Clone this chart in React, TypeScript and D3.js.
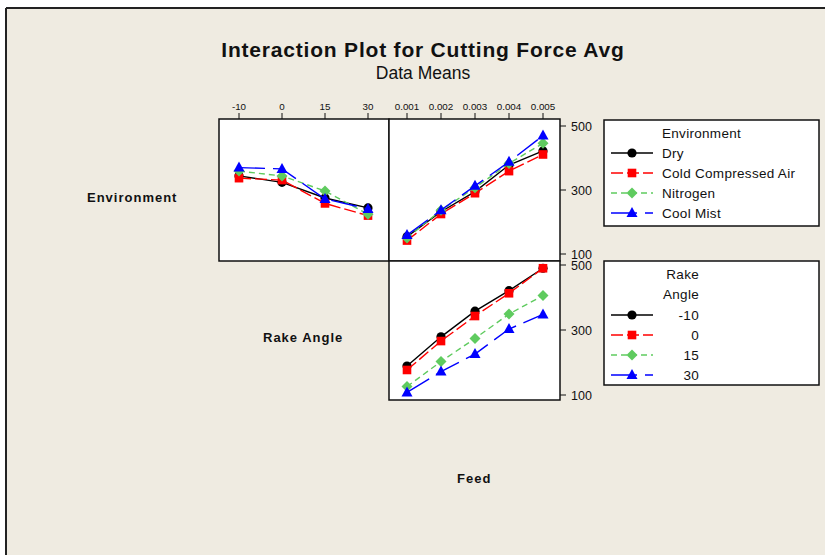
import React from "react";
import * as d3 from "d3";

const rakeLevels = ["-10", "0", "15", "30"];
const feedLevels = [0.001, 0.002, 0.003, 0.004, 0.005];
const environments = ["Dry", "Cold Compressed Air", "Nitrogen", "Cool Mist"];
const yTicks = [100, 300, 500];

// Environment means by rake angle (rows = environment)
const envDryByRake = [344, 324, 275, 244];
const envColdByRake = [337, 331, 258, 220];
const envNitroByRake = [359, 344, 297, 224];
const envMistByRake = [370, 366, 272, 241];

// Environment means by feed
const envDryByFeed = [154, 232, 295, 378, 422];
const envColdByFeed = [142, 225, 290, 359, 411];
const envNitroByFeed = [150, 237, 307, 383, 446];
const envMistByFeed = [159, 237, 313, 388, 470];

// Rake angle means by feed
const rakeM10ByFeed = [189, 279, 358, 421, 490];
const rake0ByFeed = [177, 266, 343, 413, 490];
const rake15ByFeed = [126, 203, 274, 349, 406];
const rake30ByFeed = [108, 172, 226, 303, 348];

const envSeries = [envDryByRake, envColdByRake, envNitroByRake, envMistByRake];
const envFeedSeries = [envDryByFeed, envColdByFeed, envNitroByFeed, envMistByFeed];
const rakeFeedSeries = [rakeM10ByFeed, rake0ByFeed, rake15ByFeed, rake30ByFeed];

const styles = [
  { color: "#000000", dash: "none", shape: "circle" },
  { color: "#FF0000", dash: "12,4", shape: "square" },
  { color: "#5FCB5F", dash: "6,4", shape: "diamond" },
  { color: "#0000FF", dash: "26,8", shape: "triangle" },
];

const BG = "#EFEBE1";
const FONT = "'Liberation Sans', Arial, sans-serif";

function Marker({ x, y, shape, color }: any) {
  if (shape === "circle") return <circle cx={x} cy={y} r={4.6} fill={color} />;
  if (shape === "square") return <rect x={x - 4.3} y={y - 4.3} width={8.6} height={8.6} fill={color} />;
  if (shape === "diamond")
    return <path d={`M${x},${y - 5.5}L${x + 5.5},${y}L${x},${y + 5.5}L${x - 5.5},${y}Z`} fill={color} />;
  return <path d={`M${x},${y - 6}L${x + 5.5},${y + 4}L${x - 5.5},${y + 4}Z`} fill={color} />;
}

function Series({ xs, ys, st }: any) {
  const line = d3.line<number>().x((_, i) => xs[i]).y((d) => d);
  return (
    <g>
      <path d={line(ys) || ""} fill="none" stroke={st.color} strokeWidth={1.4} strokeDasharray={st.dash} />
      {ys.map((v: number, i: number) => (
        <Marker key={i} x={xs[i]} y={v} shape={st.shape} color={st.color} />
      ))}
    </g>
  );
}

export default function App() {
  const W = 825, H = 555;
  const xRake = d3.scalePoint<string>().domain(rakeLevels).range([239, 368]);
  const xFeed = d3.scaleLinear().domain([0.001, 0.005]).range([407, 543]);
  const yTop = d3.scaleLinear().domain([100, 500]).range([254, 126]);
  const yBot = d3.scaleLinear().domain([100, 500]).range([395, 265]);

  const fmtFeed = d3.format(".3f");
  const LFS = 13.5;

  return (
    <svg width={W} height={H} style={{ position: "absolute", left: 0, top: 0 }} fontFamily={FONT}>
      <rect x={0} y={0} width={W} height={H} fill="#FFFFFF" />
      <rect x={6} y={8} width={W - 6} height={H - 8} fill={BG} />
      <line x1={6} y1={8} x2={W} y2={8} stroke="#222" strokeWidth={2} />
      <line x1={6} y1={8} x2={6} y2={H} stroke="#222" strokeWidth={2} />

      <text x={423} y={57} textAnchor="middle" fontSize={21} fontWeight="bold" letterSpacing={0.8} fill="#111">
        Interaction Plot for Cutting Force Avg
      </text>
      <text x={423} y={79} textAnchor="middle" fontSize={17.5} fill="#111">
        Data Means
      </text>

      {/* panels */}
      <rect x={219} y={119} width={170} height={142} fill="#fff" stroke="#111" strokeWidth={1.5} />
      <rect x={389} y={119} width={171} height={142} fill="#fff" stroke="#111" strokeWidth={1.5} />
      <rect x={389} y={261} width={171} height={139} fill="#fff" stroke="#111" strokeWidth={1.5} />

      {/* top tick labels */}
      {rakeLevels.map((r) => (
        <g key={r}>
          <line x1={xRake(r)} x2={xRake(r)} y1={113} y2={119} stroke="#111" />
          <text x={xRake(r)} y={110} textAnchor="middle" fontSize={9.8} fill="#111">{r}</text>
        </g>
      ))}
      {feedLevels.map((f) => (
        <g key={f}>
          <line x1={xFeed(f)} x2={xFeed(f)} y1={113} y2={119} stroke="#111" />
          <text x={xFeed(f)} y={110} textAnchor="middle" fontSize={9.8} fill="#111">{fmtFeed(f)}</text>
        </g>
      ))}

      {/* right y ticks */}
      {yTicks.map((t) => (
        <g key={"t" + t}>
          <line x1={560} x2={566} y1={yTop(t)} y2={yTop(t)} stroke="#111" />
          <text x={571} y={yTop(t) + 4.5} fontSize={12.5} fill="#111">{t}</text>
        </g>
      ))}
      {yTicks.map((t) => (
        <g key={"b" + t}>
          <line x1={560} x2={566} y1={yBot(t)} y2={yBot(t)} stroke="#111" />
          <text x={571} y={yBot(t) + 4.5} fontSize={12.5} fill="#111">{t}</text>
        </g>
      ))}

      {/* series */}
      {envSeries.map((s, i) => (
        <Series key={"er" + i} xs={rakeLevels.map((r) => xRake(r))} ys={s.map((v) => yTop(v))} st={styles[i]} />
      ))}
      {envFeedSeries.map((s, i) => (
        <Series key={"ef" + i} xs={feedLevels.map((f) => xFeed(f))} ys={s.map((v) => yTop(v))} st={styles[i]} />
      ))}
      {rakeFeedSeries.map((s, i) => (
        <Series key={"rf" + i} xs={feedLevels.map((f) => xFeed(f))} ys={s.map((v) => yBot(v))} st={styles[i]} />
      ))}

      {/* row labels */}
      <text x={87} y={202} fontSize={13} fontWeight="bold" letterSpacing={1} fill="#111">Environment</text>
      <text x={263} y={342} fontSize={13} fontWeight="bold" letterSpacing={1} fill="#111">Rake Angle</text>
      <text x={457} y={483} fontSize={13} fontWeight="bold" letterSpacing={1} fill="#111">Feed</text>

      {/* legend 1 */}
      <rect x={604} y={120} width={215} height={106} fill="#fff" stroke="#111" strokeWidth={1.5} />
      <text x={662} y={138} fontSize={LFS} letterSpacing={0.3} fill="#111">Environment</text>
      {environments.map((e, i) => {
        const y = 153 + i * 20;
        const st = styles[i];
        return (
          <g key={e}>
            <line x1={611} x2={653} y1={y} y2={y} stroke={st.color} strokeWidth={1.4} strokeDasharray={st.dash} />
            <Marker x={632} y={y} shape={st.shape} color={st.color} />
            <text x={662} y={y + 5} fontSize={LFS} letterSpacing={0.3} fill="#111">{e}</text>
          </g>
        );
      })}

      {/* legend 2 */}
      <rect x={604} y={261} width={215} height={124} fill="#fff" stroke="#111" strokeWidth={1.5} />
      <text x={699} y={279} textAnchor="end" fontSize={LFS} letterSpacing={0.3} fill="#111">Rake</text>
      <text x={699} y={299} textAnchor="end" fontSize={LFS} letterSpacing={0.3} fill="#111">Angle</text>
      {rakeLevels.map((r, i) => {
        const y = 315 + i * 20;
        const st = styles[i];
        return (
          <g key={r}>
            <line x1={611} x2={653} y1={y} y2={y} stroke={st.color} strokeWidth={1.4} strokeDasharray={st.dash} />
            <Marker x={632} y={y} shape={st.shape} color={st.color} />
            <text x={699} y={y + 5} textAnchor="end" fontSize={LFS} letterSpacing={0.3} fill="#111">{r}</text>
          </g>
        );
      })}
    </svg>
  );
}
